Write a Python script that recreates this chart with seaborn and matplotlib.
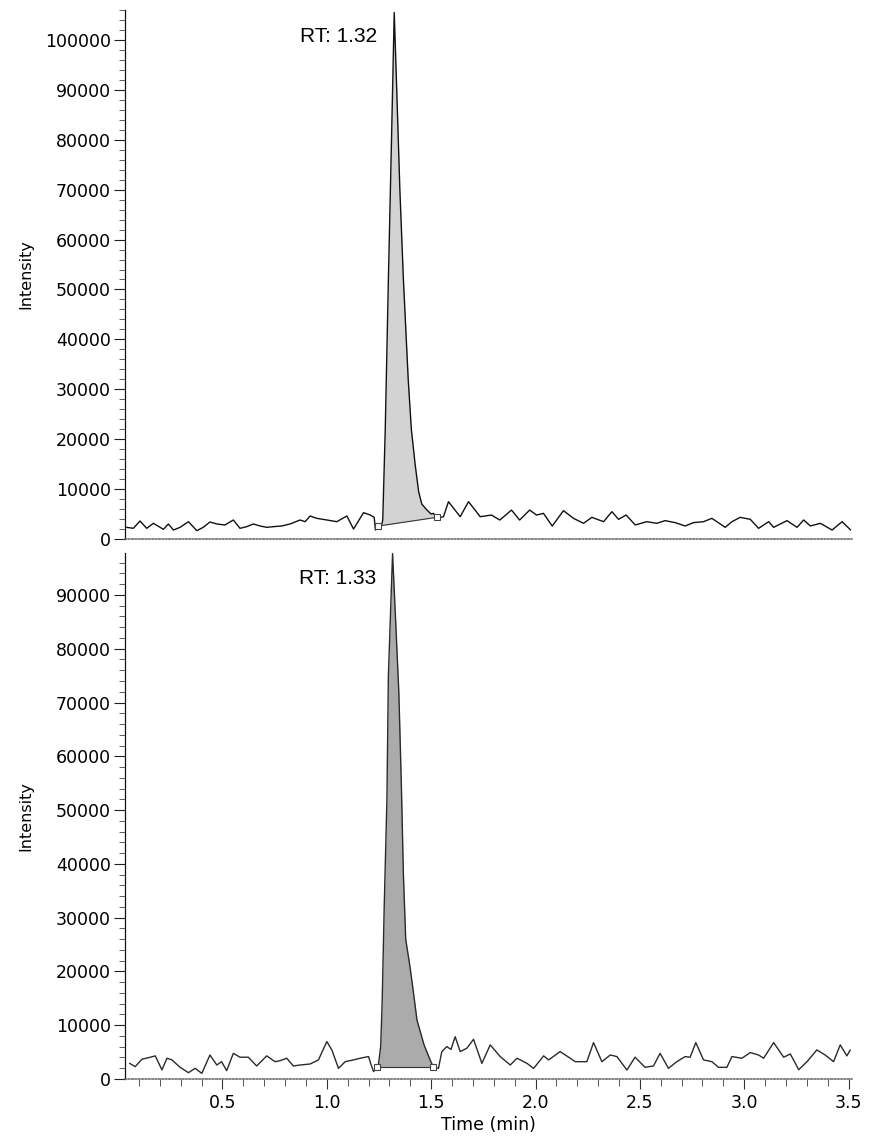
import numpy as np
import pandas as pd
import matplotlib
matplotlib.use("Agg")
import matplotlib.pyplot as plt
from matplotlib.ticker import MultipleLocator
import seaborn as sns

# ---------------- data ----------------
top_time = [0.041, 0.073, 0.105, 0.137, 0.169, 0.201, 0.217, 0.241, 0.265, 0.297,
            0.337, 0.377, 0.408, 0.440, 0.473, 0.512, 0.552, 0.584, 0.616, 0.648,
            0.680, 0.712, 0.744, 0.784, 0.824, 0.872, 0.896, 0.920, 0.952, 1.000,
            1.048, 1.096, 1.128, 1.176, 1.208, 1.227, 1.233, 1.247, 1.264,
            1.268, 1.280, 1.295, 1.310, 1.323, 1.335, 1.350, 1.367, 1.390, 1.405,
            1.423, 1.440, 1.455, 1.480, 1.500, 1.511, 1.527,
            1.559, 1.583, 1.639, 1.679, 1.735, 1.789, 1.829, 1.885, 1.924, 1.972,
            2.005, 2.038, 2.080, 2.134, 2.182, 2.230, 2.270, 2.326, 2.366, 2.398,
            2.434, 2.478, 2.533, 2.581, 2.621, 2.669, 2.717, 2.757, 2.805, 2.845,
            2.909, 2.941, 2.981, 3.029, 3.069, 3.117, 3.141, 3.205, 3.253, 3.285,
            3.317, 3.365, 3.421, 3.469, 3.510]
top_intensity = [2340, 2140, 3610, 2140, 3140, 2340, 1940, 3010, 1800, 2340,
                 3470, 1670, 2340, 3410, 3010, 2810, 3810, 2140, 2470, 3010,
                 2610, 2340, 2470, 2610, 3010, 3810, 3470, 4610, 4140, 3810,
                 3470, 4610, 2000, 5280, 4810, 4340, 1800, 2600, 3000,
                 3800, 22000, 52000, 80000, 105500, 90000, 70000, 52000, 32000, 22000,
                 15000, 9500, 7000, 5800, 5000, 5140, 4140,
                 4470, 7480, 4470, 7480, 4470, 4800, 3800, 5800, 3800, 5800,
                 4800, 5140, 2600, 5680, 4140, 3140, 4340, 3470, 5480, 3940,
                 4810, 2810, 3470, 3140, 3680, 3280, 2610, 3280, 3470, 4140,
                 2340, 3470, 4340, 3940, 2140, 3470, 2340, 3680, 2340, 3810,
                 2610, 3140, 1800, 3470, 1800]

bot_time = [0.055, 0.082, 0.114, 0.154, 0.178, 0.210, 0.234, 0.258, 0.297, 0.337,
            0.369, 0.401, 0.440, 0.473, 0.496, 0.520, 0.552, 0.584, 0.624, 0.664,
            0.712, 0.752, 0.776, 0.808, 0.840, 0.872, 0.920, 0.960, 1.000, 1.024,
            1.056, 1.088, 1.128, 1.160, 1.200, 1.211, 1.224, 1.240,
            1.248, 1.258, 1.265, 1.275, 1.288, 1.295, 1.315, 1.330, 1.345, 1.357,
            1.367, 1.378, 1.398, 1.412, 1.432, 1.466, 1.495, 1.511,
            1.535, 1.551, 1.575, 1.595, 1.615, 1.639, 1.671, 1.703, 1.743, 1.783,
            1.831, 1.879, 1.911, 1.959, 1.991, 2.039, 2.063, 2.118, 2.166, 2.190,
            2.246, 2.278, 2.318, 2.358, 2.390, 2.438, 2.477, 2.525, 2.565, 2.597,
            2.637, 2.677, 2.717, 2.741, 2.768, 2.805, 2.845, 2.877, 2.917, 2.941,
            2.989, 3.029, 3.069, 3.093, 3.141, 3.189, 3.221, 3.261, 3.301, 3.348,
            3.388, 3.428, 3.460, 3.492, 3.508]
bot_intensity = [2910, 2300, 3670, 4050, 4300, 1700, 3860, 3550, 2170, 1180,
                 1980, 1050, 4460, 2600, 3220, 1550, 4770, 4050, 4050, 2420,
                 4300, 3220, 3410, 3860, 2420, 2600, 2790, 3550, 6960, 5410,
                 1980, 3220, 3550, 3860, 4170, 2790, 1370, 2170,
                 2910, 6000, 14000, 32000, 52000, 75000, 97700, 85000, 72000, 55000,
                 38000, 26000, 21000, 17000, 10970, 6340, 3550, 2170,
                 1980, 5100, 6030, 5500, 7870, 5100, 5720, 7380, 2910, 6340,
                 4170, 2600, 3860, 2910, 1980, 4300, 3550, 5100, 3860, 3220,
                 3220, 6770, 3220, 4460, 4170, 1670, 4050, 2170, 2420, 4770,
                 1980, 3220, 4170, 4050, 6770, 3550, 3220, 2170, 2170, 4170,
                 3860, 4920, 4460, 3860, 6770, 4050, 4650, 1730, 3220, 5410,
                 4460, 3220, 6340, 4300, 5410]

# integration baselines (start / end of each peak)
top_base_time = [1.247, 1.527]
top_base_int = [2600, 4340]
bot_base_time = [1.240, 1.511]
bot_base_int = [2170, 2170]

rt_labels = ["RT: 1.32", "RT: 1.33"]
y_ticks_top = list(range(0, 100001, 10000))
y_ticks_bot = list(range(0, 90001, 10000))
x_tick_labels = ["0.5", "1.0", "1.5", "2.0", "2.5", "3.0", "3.5"]
x_tick_vals = [0.5, 1.0, 1.5, 2.0, 2.5, 3.0, 3.5]

# ---------------- style ----------------
sns.set_style("ticks")
plt.rcParams['font.family'] = ['DejaVu Sans']
plt.rcParams['text.color'] = 'black'
plt.rcParams['xtick.color'] = 'black'
plt.rcParams['ytick.color'] = 'black'
plt.rcParams['axes.labelcolor'] = 'black'

W, H = 869, 1143
fig = plt.figure(figsize=(W / 100, H / 100), dpi=100)
left = 125 / W
width = (851.7 - 125) / W
ax_top = fig.add_axes([left, 1 - 539 / H, width, (539 - 10) / H])
ax_bot = fig.add_axes([left, 1 - 1079 / H, width, (1079 - 553) / H])

panels = [
    (ax_top, top_time, top_intensity, top_base_time, top_base_int, 106000,
     y_ticks_top, rt_labels[0], 100600, "#d3d3d3", "#111111"),
    (ax_bot, bot_time, bot_intensity, bot_base_time, bot_base_int, 97800,
     y_ticks_bot, rt_labels[1], 93100, "#ababab", "#2a2a2a"),
]

for (ax, t, y, bt, bi, ytop, yticks, rt, rty, fillc, linec) in panels:
    df = pd.DataFrame({"Time (min)": t, "Intensity": y})
    t_arr = np.array(t)
    y_arr = np.array(y)
    mask = (t_arr >= bt[0]) & (t_arr <= bt[1])
    base = np.interp(t_arr[mask], bt, bi)
    ax.fill_between(t_arr[mask], base, y_arr[mask], color=fillc, lw=0, zorder=1)
    sns.lineplot(data=df, x="Time (min)", y="Intensity", ax=ax, color=linec,
                 lw=1.0, sort=False, estimator=None, zorder=3)
    # peak baseline and start/end markers
    ax.plot(bt, bi, color="#333333", lw=0.8, zorder=3)
    ax.plot(bt, bi, ls="none", marker="s", ms=5, mfc="white", mec="#444444",
            mew=0.8, zorder=4)

    ax.set_xlim(0.033, 3.515)
    ax.set_ylim(0, ytop)
    ax.set_yticks(yticks)
    ax.yaxis.set_minor_locator(MultipleLocator(2000))
    ax.set_yticklabels([str(v) for v in yticks], fontsize=12.5)
    ax.tick_params(axis="y", which="major", length=8, width=0.8, pad=2,
                   direction="out", color="#222222")
    ax.tick_params(axis="y", which="minor", length=4, width=0.6,
                   direction="out", color="#444444")
    ax.set_ylabel("Intensity", fontsize=11.5, labelpad=4)
    ax.yaxis.set_label_coords(-0.126, 0.5)
    for s in ["top", "right"]:
        ax.spines[s].set_visible(False)
    ax.spines["left"].set_color("#111111")
    ax.spines["left"].set_linewidth(0.9)
    ax.spines["bottom"].set_color("#666666")
    ax.spines["bottom"].set_linestyle((0, (1, 1.2)))
    ax.spines["bottom"].set_linewidth(1.1)
    ax.text(bt[0] - 0.005, rty, rt, ha="right", va="center", fontsize=15,
            family=["Liberation Sans", "DejaVu Sans"], color="black")

ax_top.set_xticks([])
ax_top.set_xlabel("")
ax_bot.set_xticks(x_tick_vals)
ax_bot.set_xticklabels(x_tick_labels, fontsize=12.5)
ax_bot.xaxis.set_minor_locator(MultipleLocator(0.1))
ax_bot.tick_params(axis="x", which="major", length=7, width=0.8, pad=4,
                   direction="out", color="#333333")
ax_bot.tick_params(axis="x", which="minor", length=5, width=0.7,
                   direction="out", color="#555555")
ax_bot.set_xlabel("Time (min)", fontsize=12.5, labelpad=3)

fig.savefig("out.png", dpi=100)
